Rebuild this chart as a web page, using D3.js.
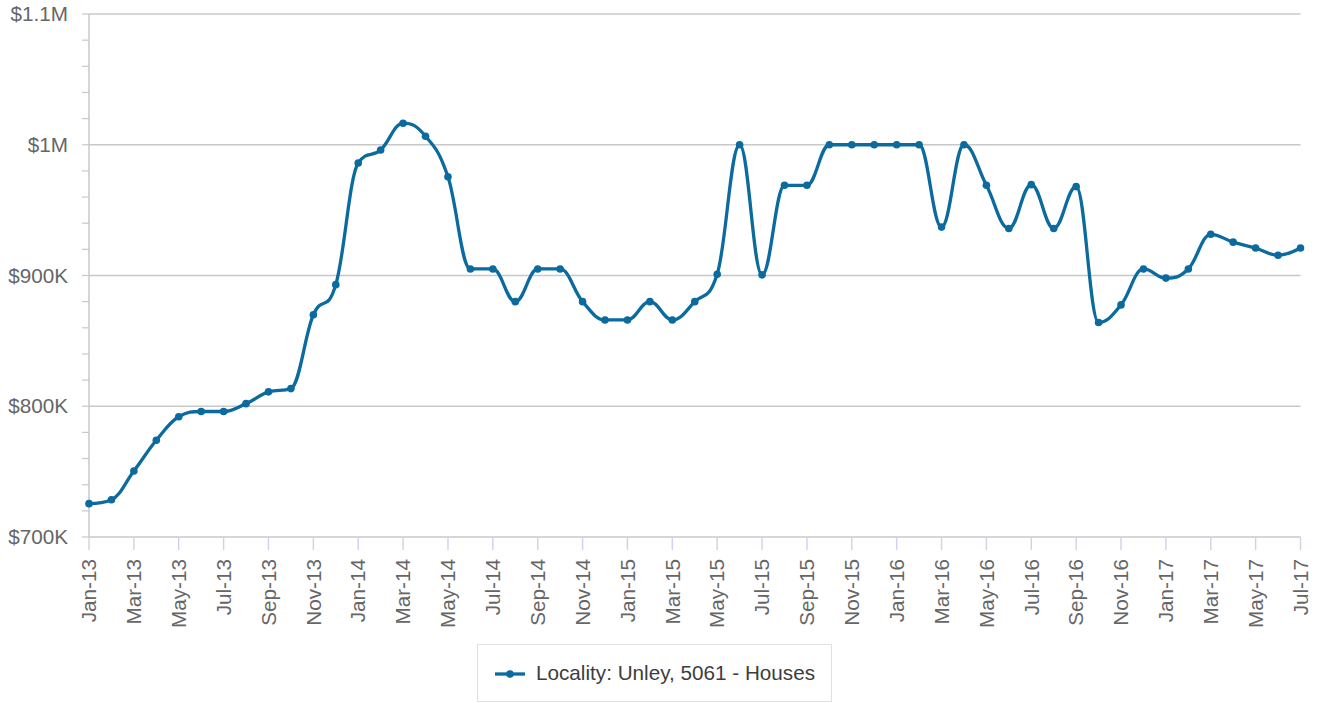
<!DOCTYPE html>
<html>
<head>
<meta charset="utf-8">
<script src="https://cdn.jsdelivr.net/npm/d3@7"></script>
<style>
  body { margin: 0; background: #fff; }
  svg { display: block; font-family: "Liberation Sans", Arial, sans-serif; }
</style>
</head>
<body>
<div id="chart"></div>
<script>
// monthly categories, Jan-13 .. Jul-17
const months = [
  "Jan-13","Feb-13","Mar-13","Apr-13","May-13","Jun-13","Jul-13","Aug-13","Sep-13","Oct-13","Nov-13","Dec-13",
  "Jan-14","Feb-14","Mar-14","Apr-14","May-14","Jun-14","Jul-14","Aug-14","Sep-14","Oct-14","Nov-14","Dec-14",
  "Jan-15","Feb-15","Mar-15","Apr-15","May-15","Jun-15","Jul-15","Aug-15","Sep-15","Oct-15","Nov-15","Dec-15",
  "Jan-16","Feb-16","Mar-16","Apr-16","May-16","Jun-16","Jul-16","Aug-16","Sep-16","Oct-16","Nov-16","Dec-16",
  "Jan-17","Feb-17","Mar-17","Apr-17","May-17","Jun-17","Jul-17"
];

// median price, Locality: Unley, 5061 - Houses
const prices = [
  725500, 728500, 750500, 774000, 792000, 796000, 796000, 802000, 811000, 813500, 870000, 893000,
  986000, 996000, 1016500, 1006500, 975500, 905000, 905000, 880000, 905000, 905000, 880000, 866000,
  866000, 880000, 866000, 880000, 901000, 1000000, 900500, 969000, 969000, 1000000, 1000000, 1000000,
  1000000, 1000000, 937000, 1000000, 969000, 936000, 969500, 936000, 968000, 864000, 877500, 905000,
  898000, 905000, 931500, 925500, 921000, 915500, 921000
];

const xTickLabels = months.filter((m, i) => i % 2 === 0);
const yTicks = [700000, 800000, 900000, 1000000, 1100000];
const yTickLabels = ["$700K", "$800K", "$900K", "$1M", "$1.1M"];
const seriesName = "Locality: Unley, 5061 - Houses";

const W = 1318, H = 703;
const plotLeft = 89, plotRight = 1300.5, plotTop = 14, plotBottom = 537;
const lineColor = "#0b6a9e";
const fontSize = "20.7px";

const svg = d3.select("#chart").append("svg").attr("width", W).attr("height", H);

const x = d3.scalePoint().domain(months).range([plotLeft, plotRight]).padding(0);
const y = d3.scaleLinear().domain([700000, 1100000]).range([plotBottom, plotTop]);

// gridlines
svg.append("g").selectAll("line").data(yTicks).join("line")
  .attr("x1", plotLeft).attr("x2", plotRight)
  .attr("y1", d => y(d)).attr("y2", d => y(d))
  .attr("stroke", "#c8c8c8").attr("stroke-width", 1.5);

// y axis line + ticks (minor every 20K)
svg.append("line")
  .attr("x1", plotLeft).attr("x2", plotLeft).attr("y1", plotTop).attr("y2", plotBottom)
  .attr("stroke", "#c8c8c8").attr("stroke-width", 1.5);

const minor = d3.range(700000, 1100001, 20000);
svg.append("g").selectAll("line").data(minor).join("line")
  .attr("x1", plotLeft - 7).attr("x2", plotLeft)
  .attr("y1", d => y(d)).attr("y2", d => y(d))
  .attr("stroke", "#c8c8c8").attr("stroke-width", 1.2);

svg.append("g").selectAll("text").data(yTicks).join("text")
  .attr("x", 68).attr("y", d => y(d)).attr("dy", "0.35em")
  .attr("text-anchor", "end")
  .attr("fill", "#666").style("font-size", fontSize)
  .text((d, i) => yTickLabels[i]);

// x ticks + labels
const xt = svg.append("g");
xt.selectAll("line").data(xTickLabels).join("line")
  .attr("x1", d => x(d)).attr("x2", d => x(d))
  .attr("y1", plotBottom).attr("y2", plotBottom + 13)
  .attr("stroke", "#ccd6eb").attr("stroke-width", 1.5);

xt.selectAll("text").data(xTickLabels).join("text")
  .attr("transform", d => `translate(${x(d)},${plotBottom + 22}) rotate(-90)`)
  .attr("dy", "0.35em")
  .attr("text-anchor", "end")
  .attr("fill", "#666").style("font-size", fontSize)
  .text(d => d);

// highcharts-like spline curve
function splineCurve(context) {
  let pts;
  return {
    areaStart() {}, areaEnd() {},
    lineStart() { pts = []; },
    point(px, py) { pts.push([+px, +py]); },
    lineEnd() {
      const sm = 1.5, den = sm + 1;
      let lastRight = null;
      pts.forEach((p, i) => {
        if (i === 0) { context.moveTo(p[0], p[1]); return; }
        const prev = pts[i - 1], next = pts[i + 1];
        let lcx = p[0], lcy = p[1], rc = null;
        if (next) {
          lcx = (sm * p[0] + prev[0]) / den;
          lcy = (sm * p[1] + prev[1]) / den;
          const rcx = (sm * p[0] + next[0]) / den;
          let rcy = (sm * p[1] + next[1]) / den;
          let corr = 0;
          if (rcx !== lcx) corr = ((rcy - lcy) * (rcx - p[0])) / (rcx - lcx) + p[1] - rcy;
          lcy += corr; rcy += corr;
          if (lcy > prev[1] && lcy > p[1]) { lcy = Math.max(prev[1], p[1]); rcy = 2 * p[1] - lcy; }
          else if (lcy < prev[1] && lcy < p[1]) { lcy = Math.min(prev[1], p[1]); rcy = 2 * p[1] - lcy; }
          if (rcy > next[1] && rcy > p[1]) { rcy = Math.max(next[1], p[1]); lcy = 2 * p[1] - rcy; }
          else if (rcy < next[1] && rcy < p[1]) { rcy = Math.min(next[1], p[1]); lcy = 2 * p[1] - rcy; }
          rc = [rcx, rcy];
        }
        const c1 = lastRight || prev;
        context.bezierCurveTo(c1[0], c1[1], lcx, lcy, p[0], p[1]);
        lastRight = rc;
      });
    }
  };
}

const data = months.map((m, i) => ({ m, v: prices[i] }));

const line = d3.line().x(d => x(d.m)).y(d => y(d.v)).curve(splineCurve);

svg.append("path").datum(data)
  .attr("d", line)
  .attr("fill", "none")
  .attr("stroke", lineColor)
  .attr("stroke-width", 3.3)
  .attr("stroke-linejoin", "round");

svg.append("g").selectAll("circle").data(data).join("circle")
  .attr("cx", d => x(d.m)).attr("cy", d => y(d.v))
  .attr("r", 3.8).attr("fill", lineColor);

// legend
const lg = svg.append("g");
lg.append("rect")
  .attr("x", 477.5).attr("y", 644.5).attr("width", 354).attr("height", 57)
  .attr("fill", "#fff").attr("stroke", "#e0e0e0").attr("stroke-width", 1);
lg.append("line")
  .attr("x1", 495).attr("x2", 525).attr("y1", 674).attr("y2", 674)
  .attr("stroke", lineColor).attr("stroke-width", 3.3);
lg.append("circle").attr("cx", 510).attr("cy", 674).attr("r", 3.8).attr("fill", lineColor);
lg.append("text")
  .attr("x", 536).attr("y", 673).attr("dy", "0.35em")
  .attr("fill", "#3d3d3d").style("font-size", fontSize)
  .text(seriesName);
</script>
</body>
</html>
